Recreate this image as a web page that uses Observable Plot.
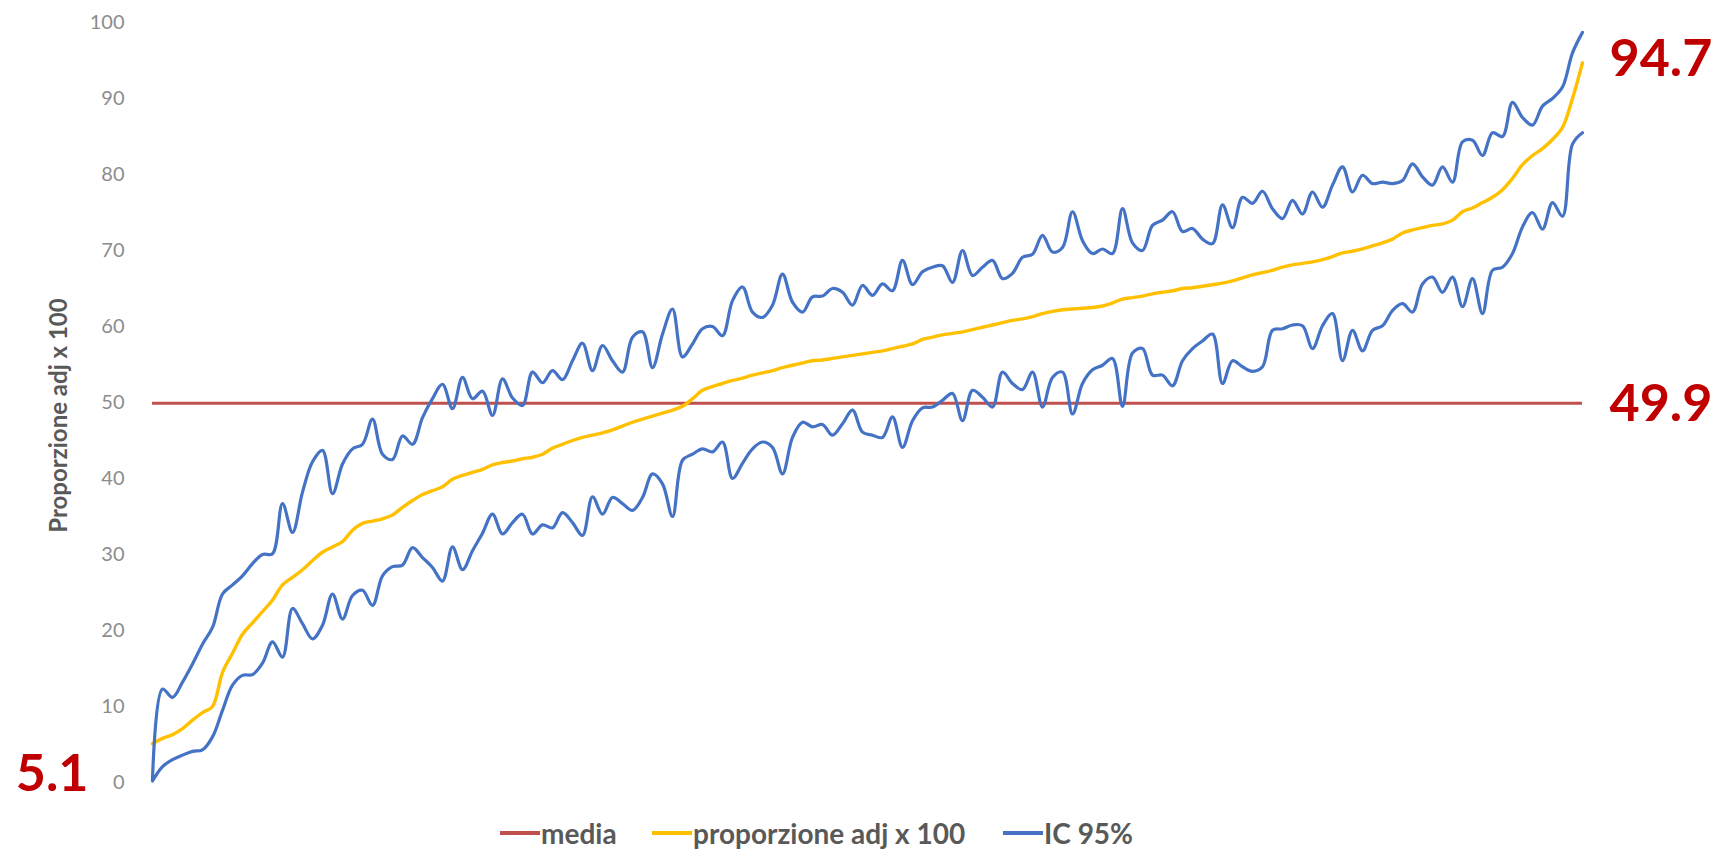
<!DOCTYPE html>
<html><head><meta charset="utf-8">
<script src="https://cdn.jsdelivr.net/npm/d3@7"></script>
<script src="https://cdn.jsdelivr.net/npm/@observablehq/plot@0.6"></script>
<style>
body{margin:0;background:#fff;font-family:Lato,"Open Sans",sans-serif;}
#wrap{position:relative;width:1723px;height:851px;overflow:hidden;}
#legend{position:relative;width:1723px;height:36px;}
.item{position:absolute;top:0;display:flex;align-items:center;height:36px;font-size:28px;font-weight:700;color:#595959;white-space:nowrap;}
.sw{display:inline-block;height:3.5px;width:40px;margin-right:1px;}
</style></head><body>
<div id="wrap"><div id="chart"></div><div id="legend"></div></div>
<script>
// proporzione adj x 100 (sorted regions)
const proporzione = [5.1,5.8,6.3,7.1,8.2,9.2,10.0,14.5,17.0,19.5,21.0,22.5,24.0,26.0,27.0,28.0,29.2,30.3,31.0,31.7,
33.2,34.1,34.4,34.7,35.2,36.2,37.1,37.9,38.4,38.9,39.9,40.4,40.8,41.2,41.8,42.1,42.3,42.6,42.8,43.2,
44.0,44.5,45.0,45.4,45.7,46.0,46.4,46.9,47.4,47.8,48.2,48.6,49.0,49.5,50.5,51.6,52.1,52.5,52.9,53.2,
53.6,53.9,54.2,54.6,54.9,55.2,55.5,55.6,55.8,56.0,56.2,56.4,56.6,56.8,57.1,57.4,57.7,58.3,58.6,58.9,
59.1,59.3,59.6,59.9,60.2,60.5,60.8,61.0,61.3,61.7,62.0,62.2,62.3,62.4,62.5,62.7,63.1,63.6,63.8,64.0,
64.3,64.5,64.7,65.0,65.1,65.3,65.5,65.7,66.0,66.4,66.8,67.1,67.4,67.8,68.1,68.3,68.5,68.8,69.2,69.7,
69.9,70.2,70.6,71.0,71.5,72.3,72.7,73.0,73.3,73.5,74.0,75.1,75.6,76.3,77.0,78.0,79.5,81.3,82.5,83.4,
84.6,86.2,90.0,94.7];
// IC 95% upper bound
const icSup = [0.3,12.3,11.2,13.2,15.6,18.2,20.4,24.8,26.0,27.2,28.8,30.0,30.1,36.7,32.9,38.2,42.2,43.7,38.0,41.9,
43.9,44.5,47.8,43.2,42.5,45.6,44.5,48.0,50.5,52.4,49.2,53.3,50.5,51.5,48.3,53.1,50.6,49.6,54.0,52.6,
54.2,53.0,55.5,57.8,54.2,57.5,55.5,54.0,58.6,59.3,54.6,59.0,62.3,56.0,57.7,59.7,60.0,58.8,63.4,65.2,
61.9,61.2,62.8,66.9,63.2,61.9,63.9,64.0,65.0,64.5,62.8,65.4,64.1,65.6,64.7,68.7,65.5,67.2,67.8,68.0,
65.8,70.0,66.7,67.8,68.7,66.3,67.0,69.1,69.5,72.0,69.8,70.4,75.1,71.3,69.6,70.2,69.6,75.5,71.0,70.0,
73.3,74.0,75.1,72.5,72.9,71.5,70.9,76.0,73.0,77.0,76.2,77.8,75.5,74.2,76.6,74.8,77.7,75.7,78.6,81.0,
77.7,79.9,78.8,79.0,78.8,79.2,81.4,79.7,78.6,81.0,79.0,84.3,84.5,82.5,85.5,85.0,89.5,87.5,86.5,89.0,
90.0,91.5,96.0,98.7];
// IC 95% lower bound
const icInf = [0.2,2.1,3.0,3.6,4.1,4.3,6.0,9.5,12.8,14.1,14.2,15.7,18.5,16.5,22.9,20.9,18.9,20.7,24.8,21.5,
24.6,25.3,23.3,27.2,28.4,28.6,30.9,29.6,28.3,26.5,31.0,28.0,30.5,32.8,35.3,32.7,34.2,35.3,32.7,33.9,
33.5,35.5,34.2,32.5,37.6,35.3,37.5,36.7,35.8,37.5,40.6,39.3,35.0,42.4,43.2,43.9,43.5,44.8,40.0,42.0,
43.9,44.8,44.1,40.6,45.4,47.4,46.8,47.1,45.7,47.2,49.0,46.1,45.7,45.4,48.1,44.1,47.6,49.3,49.4,50.3,
51.2,47.6,51.6,50.7,49.4,54.0,52.5,51.7,54.0,49.4,53.3,54.0,48.5,52.5,54.3,54.9,55.8,49.5,56.5,57.1,
53.6,53.6,52.2,55.5,57.1,58.1,59.0,52.5,55.5,54.7,54.1,54.7,59.5,59.7,60.2,60.1,57.1,60.1,61.7,55.5,
59.5,56.8,59.5,60.1,62.1,63.0,61.9,65.6,66.5,64.5,66.5,62.6,66.3,61.7,67.4,67.8,69.6,73.1,75.0,72.8,
76.3,74.5,84.0,85.5];
const media = 49.9;
const yTicks = [0,10,20,30,40,50,60,70,80,90,100];
const yLabel = "Proporzione adj x 100";
const seriesNames = ["media","proporzione adj x 100","IC 95%"];
const seriesColors = ["#C0504D","#FFC000","#4472C4"];
const legendLeft = [500, 652, 1003];

const data = proporzione.map((p, i) => ({i, p, sup: icSup[i], inf: icInf[i]}));
const last = data.length - 1;
const fmt = d3.format(".1f");
const annotations = [
  {i: last, v: proporzione[last], dx: 27, dy: -3, anchor: "start"},
  {i: last, v: media, dx: 27, dy: 1, anchor: "start"},
  {i: 0, v: proporzione[0], dx: -64, dy: 31, anchor: "end"}
];

const chart = Plot.plot({
  width: 1723, height: 815,
  marginLeft: 152, marginRight: 141, marginTop: 22, marginBottom: 33,
  style: {fontFamily: "Lato, 'Open Sans', sans-serif", background: "#fff"},
  x: {domain: [0, last], axis: null},
  y: {domain: [0, 100], axis: null},
  marks: [
    Plot.axisY({ticks: yTicks, tickSize: 0, tickPadding: 28, fontSize: 20, color: "#8c8c8c", label: null, tickFormat: d3.format("d")}),
    Plot.text([yLabel], {frameAnchor: "left", text: d => d, rotate: -90, textAnchor: "middle", dx: -93, dy: 13, fontSize: 24, fontWeight: "bold", fill: "#595959"}),
    Plot.ruleY([media], {stroke: seriesColors[0], strokeWidth: 3.2}),
    Plot.line(data, {x: "i", y: "p", stroke: seriesColors[1], strokeWidth: 3.4, curve: "catmull-rom"}),
    Plot.line(data, {x: "i", y: "sup", stroke: seriesColors[2], strokeWidth: 3.2, curve: "catmull-rom"}),
    Plot.line(data, {x: "i", y: "inf", stroke: seriesColors[2], strokeWidth: 3.2, curve: "catmull-rom"}),
    ...annotations.map(a => Plot.text([a], {x: "i", y: "v", text: d => fmt(d.v), dx: a.dx, dy: a.dy, textAnchor: a.anchor, fontSize: 52, fontWeight: "bold", fill: "#C00000", clip: false}))
  ]
});
document.getElementById("chart").appendChild(chart);

const legend = document.getElementById("legend");
seriesNames.forEach((name, k) => {
  const it = document.createElement("div");
  it.className = "item";
  it.style.left = legendLeft[k] + "px";
  const sw = document.createElement("span");
  sw.className = "sw";
  sw.style.background = seriesColors[k];
  it.appendChild(sw);
  it.appendChild(document.createTextNode(name));
  legend.appendChild(it);
});
</script>
</body></html>
